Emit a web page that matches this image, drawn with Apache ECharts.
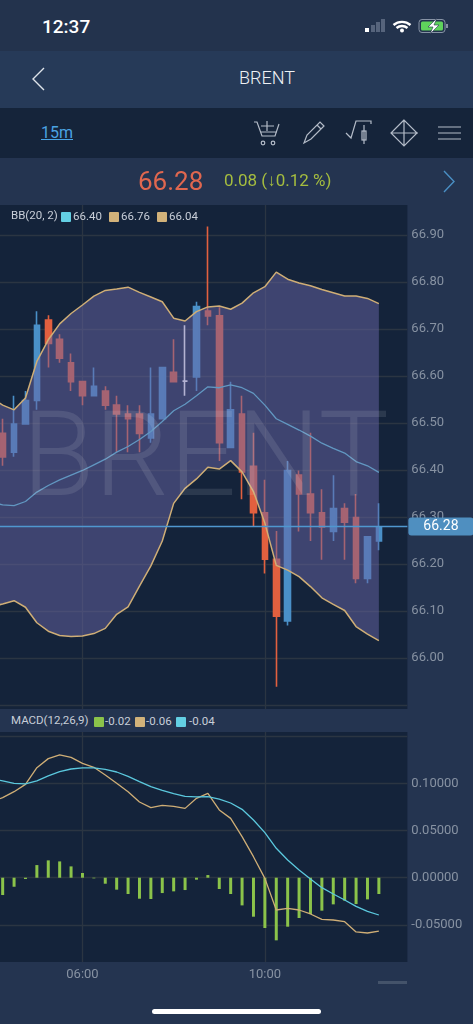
<!DOCTYPE html>
<html lang="en">

<head>
    <meta charset="UTF-8">
    <meta name="viewport" content="width=device-width, initial-scale=1.0">
    <script src="https://cdn.jsdelivr.net/npm/echarts@6/dist/echarts.min.js"></script>
    <title>BRENT</title>
    <style>
        html,
        body {
            margin: 0;
            width: 473px;
            height: 1024px;
            overflow: hidden;
            background: #243450;
            font-family: Roboto, sans-serif;
        }

        #echart-container {
            position: absolute;
            left: 0;
            top: 0;
            width: 473px;
            height: 1024px;
        }

        .strip { position: absolute; left: 0; width: 473px; }
        .txt { position: absolute; white-space: nowrap; line-height: 1; }
        .sw { position: absolute; width: 10px; height: 10px; border-radius: 1px; }
        .leg { color: #c8ced8; font-size: 11.5px; }
        svg { position: absolute; overflow: visible; fill: none; }
    </style>
</head>

<body>
    <div id="echart-container"></div>

    <div class="strip" style="top:0;height:51px;background:#23334d"></div>
    <div class="strip" style="top:51px;height:57px;background:#263a58"></div>
    <div class="strip" style="top:108px;height:50px;background:#15243a"></div>
    <div class="strip" style="top:709px;width:407px;height:23px;background:#243450"></div>

    <div class="txt" style="left:42px;top:17px;color:#fff;font-size:19px;font-weight:500">12:37</div>
    <div class="txt" style="left:239px;top:69px;color:#eef1f5;font-size:18px;font-weight:300">BRENT</div>
    <div class="txt" style="left:41px;top:125px;color:#4ba3e3;font-size:16px;text-decoration:underline">15m</div>
    <div class="txt" style="left:138px;top:168px;color:#e0674f;font-size:26px">66.28</div>
    <div class="txt" style="left:224px;top:172px;color:#a5bd3f;font-size:17px">0.08 (↓0.12 %)</div>

    <!-- status icons -->
    <svg style="left:0;top:0" width="473" height="60">
        <rect x="365" y="28" width="4" height="4" fill="#fff"/>
        <rect x="371" y="25" width="4" height="7" fill="#56647c"/>
        <rect x="376" y="22" width="4" height="10" fill="#56647c"/>
        <rect x="381" y="19" width="4" height="13" fill="#56647c"/>
        <path d="M393.5 25a13 13 0 0 1 17 0M396.5 28a8.5 8.5 0 0 1 11 0" stroke="#fff" stroke-width="2.4"/>
        <circle cx="402" cy="30.5" r="2" fill="#fff"/>
        <rect x="419" y="19.500" width="26" height="13" rx="3" stroke="#8793a5" stroke-width="1"/>
        <rect x="421" y="21.500" width="22" height="9" rx="1.5" fill="#5fd35c"/>
        <rect x="446" y="24" width="2" height="4" fill="#8793a5"/>
        <path d="M437 18l-9 9h5l-3 7 9-9h-5z" fill="#fff" stroke="#23334d" stroke-width=".6"/>
    </svg>

    <!-- nav and toolbar icons -->
    <svg style="left:0;top:0" width="473" height="210">
        <path d="M44 68L33 79l11 11" stroke="#dfe4ea" stroke-width="1.4"/>
        <path d="M444 171l10 10.500-10 10.500" stroke="#4a8fc4" stroke-width="1.4"/>
        <g stroke="#b4bcc8" stroke-width="1.2">
            <path d="M254 122h3l5 14h13l4-12M261 132h16M267 121v10M261 126h13"/>
            <circle cx="263" cy="143" r="1.800"/>
            <circle cx="273" cy="143" r="1.800"/>
            <path d="M304 143l3-8 13-13 4 4-13 13zM317 125l4 4"/>
            <path d="M346 133l5 5 5-17h15v3M364 125v19"/>
            <rect x="362" y="131" width="4" height="9"/>
            <path d="M404 120v26M391 133h27M404 120l-13 13 13 13 13-13z"/>
            <path d="M438 127h23M438 133h23M438 139h23"/>
        </g>
    </svg>

    <!-- BB legend -->
    <div class="txt leg" style="left:11px;top:210px">BB(20, 2)</div>
    <div class="sw" style="left:61px;top:212px;background:#63cfe3"></div>
    <div class="txt leg" style="left:73px;top:211px">66.40</div>
    <div class="sw" style="left:109px;top:212px;background:#d2b27a"></div>
    <div class="txt leg" style="left:121px;top:211px">66.76</div>
    <div class="sw" style="left:157px;top:212px;background:#d2b27a"></div>
    <div class="txt leg" style="left:169px;top:211px">66.04</div>

    <!-- MACD legend -->
    <div class="txt leg" style="left:11px;top:715px">MACD(12,26,9)</div>
    <div class="sw" style="left:94px;top:717px;background:#8bc34a"></div>
    <div class="txt leg" style="left:105px;top:716px">-0.02</div>
    <div class="sw" style="left:135px;top:717px;background:#d2b27a"></div>
    <div class="txt leg" style="left:146px;top:716px">-0.06</div>
    <div class="sw" style="left:176px;top:717px;background:#63cfe3"></div>
    <div class="txt leg" style="left:189px;top:716px">-0.04</div>

    <div class="strip" style="left:378px;top:981px;width:29px;height:3px;background:#44536a"></div>
    <div class="strip" style="left:152px;top:1009px;width:169px;height:5px;border-radius:3px;background:#fff"></div>

    <script>
        var timeLabels = ['04:00', '04:15', '04:30', '04:45', '05:00', '05:15', '05:30', '05:45', '06:00', '06:15',
            '06:30', '06:45', '07:00', '07:15', '07:30', '07:45', '08:00', '08:15', '08:30', '08:45', '09:00', '09:15',
            '09:30', '09:45', '10:00', '10:15', '10:30', '10:45', '11:00', '11:15', '11:30', '11:45', '12:00', '12:15',
            '12:30', '12:45', '13:00'];
        var shownTimes = ['06:00', '10:00'];

        var priceLines = [65.9, 66, 66.1, 66.2, 66.3, 66.4, 66.5, 66.6, 66.7, 66.8, 66.9];
        var priceLabels = [66, 66.1, 66.2, 66.3, 66.4, 66.5, 66.6, 66.7, 66.8, 66.9];
        var macdLines = [-0.05, 0, 0.05, 0.1, 0.15];
        var macdLabels = [-0.05, 0, 0.05, 0.1];
        var lastPrice = 66.28;

        // open, close, low, high
        var candles = ['-',
            [66.478, 66.428, 66.409, 66.509], [66.438, 66.498, 66.428, 66.558], [66.498, 66.548, 66.498, 66.568],
            [66.548, 66.708, 66.528, 66.738], [66.719, 66.669, 66.618, 66.729], [66.678, 66.638, 66.628, 66.689],
            [66.628, 66.588, 66.568, 66.648], [66.588, 66.558, 66.538, 66.588], [66.558, 66.578, 66.558, 66.618],
            [66.568, 66.538, 66.528, 66.578], [66.538, 66.519, 66.438, 66.558], [66.519, 66.509, 66.438, 66.538],
            [66.519, 66.478, 66.438, 66.538], [66.468, 66.519, 66.458, 66.618], [66.509, 66.618, 66.509, 66.618],
            [66.608, 66.588, 66.588, 66.678], [66.589, 66.589, 66.558, 66.708], [66.598, 66.748, 66.568, 66.758],
            [66.738, 66.728, 66.708, 66.918], [66.728, 66.458, 66.419, 66.746], [66.448, 66.528, 66.448, 66.588],
            [66.519, 66.396, 66.338, 66.558], [66.408, 66.309, 66.279, 66.479], [66.309, 66.210, 66.180, 66.379],
            [66.210, 66.089, 65.939, 66.270], [66.079, 66.399, 66.069, 66.419], [66.389, 66.349, 66.269, 66.399],
            [66.349, 66.309, 66.249, 66.479], [66.309, 66.279, 66.209, 66.359], [66.269, 66.318, 66.249, 66.389],
            [66.318, 66.289, 66.209, 66.329], [66.299, 66.169, 66.159, 66.349], [66.169, 66.258, 66.159, 66.258],
            [66.249, 66.279, 66.229, 66.329]];

        var bbUpper = [66.553, 66.538, 66.528, 66.553, 66.631, 66.677, 66.711, 66.733, 66.751, 66.770, 66.782, 66.785,
            66.789, 66.778, 66.768, 66.758, 66.723, 66.717, 66.737, 66.747, 66.749, 66.742, 66.755, 66.777, 66.790,
            66.821, 66.806, 66.798, 66.792, 66.784, 66.777, 66.770, 66.770, 66.765, 66.754];
        var bbMiddle = [66.331, 66.326, 66.324, 66.333, 66.353, 66.367, 66.379, 66.389, 66.399, 66.411, 66.423, 66.438,
            66.450, 66.465, 66.482, 66.503, 66.526, 66.540, 66.558, 66.577, 66.575, 66.581, 66.575, 66.563, 66.538,
            66.509, 66.497, 66.485, 66.472, 66.457, 66.446, 66.436, 66.418, 66.409, 66.395];
        var bbLower = [66.109, 66.115, 66.122, 66.108, 66.075, 66.057, 66.048, 66.046, 66.047, 66.052, 66.063, 66.093,
            66.109, 66.153, 66.196, 66.249, 66.329, 66.361, 66.381, 66.406, 66.402, 66.420, 66.396, 66.354, 66.287,
            66.197, 66.187, 66.173, 66.152, 66.128, 66.114, 66.101, 66.067, 66.051, 66.037];

        var macdHist = ['-', -0.0184, -0.0096, -0.0014, 0.0134, 0.0184, 0.0173, 0.0120, 0.0050, -0.0007, -0.0064, -0.0127,
            -0.0173, -0.0223, -0.0226, -0.0163, -0.0145, -0.0131, -0.0021, 0.0028, -0.0120, -0.0173, -0.0294, -0.0414,
            -0.0534, -0.0665, -0.0520, -0.0428, -0.0386, -0.0350, -0.0283, -0.0244, -0.0280, -0.0230, -0.0173];
        var macdLine = [0.0807, 0.0850, 0.0913, 0.0991, 0.1168, 0.1264, 0.1303, 0.1278, 0.1214, 0.1172, 0.1090, 0.1002,
            0.0913, 0.0804, 0.0744, 0.0768, 0.0758, 0.0736, 0.0843, 0.0896, 0.0719, 0.0630, 0.0436, 0.0223, -0.0007,
            -0.0343, -0.0325, -0.0343, -0.0385, -0.0442, -0.0449, -0.0467, -0.0576, -0.0587, -0.0566];
        var macdSignal = [0.1051, 0.1027, 0.1002, 0.0995, 0.1027, 0.1080, 0.1126, 0.1154, 0.1165, 0.1165, 0.1150, 0.1122,
            0.1076, 0.1020, 0.0966, 0.0928, 0.0892, 0.0864, 0.0857, 0.0860, 0.0835, 0.0793, 0.0726, 0.0613, 0.0478,
            0.0312, 0.0188, 0.0082, -0.0014, -0.0106, -0.0173, -0.0237, -0.0304, -0.0357, -0.0396];

        var gridColor = '#2b3542';
        var labelColor = '#8792a2';

        window.addEventListener('DOMContentLoaded', () => {
            var myChart = echarts.init(document.getElementById('echart-container'));

            var bandWidth = bbUpper.map((v, i) => +(v - bbLower[i]).toFixed(3));
            var candleData = candles.map(c => {
                // doji is drawn white
                if (c !== '-' && c[0] === c[1]) {
                    return { value: c, itemStyle: { color: '#fff', color0: '#fff', borderColor: '#fff', borderColor0: '#fff' } };
                }
                return c;
            });

            function timeAxis(gridIndex, showLabel) {
                var isShown = (index, value) => shownTimes.indexOf(value) >= 0;
                return {
                    type: 'category',
                    gridIndex: gridIndex,
                    data: timeLabels,
                    boundaryGap: true,
                    axisLine: { show: false },
                    axisTick: { show: false, alignWithLabel: true, interval: isShown },
                    axisLabel: { show: showLabel, interval: isShown, color: labelColor, fontSize: 13, margin: 6, fontFamily: 'Roboto' },
                    splitLine: { show: true, alignWithLabel: true, interval: isShown, lineStyle: { color: gridColor, width: 1.3 } }
                };
            }

            function valueAxis(gridIndex, min, max, lines, labels, digits) {
                return {
                    type: 'value',
                    gridIndex: gridIndex,
                    position: 'right',
                    min: min,
                    max: max,
                    axisLine: { show: false },
                    axisTick: { show: false, customValues: lines },
                    axisLabel: {
                        customValues: labels,
                        color: labelColor,
                        fontSize: 13,
                        margin: 4,
                        fontFamily: 'Roboto',
                        formatter: v => v.toFixed(digits)
                    },
                    splitLine: { show: true, lineStyle: { color: gridColor, width: 1.3 } }
                };
            }

            function plainLine(name, data, color, z, xIndex, width) {
                return {
                    name: name,
                    type: 'line',
                    data: data,
                    xAxisIndex: xIndex,
                    yAxisIndex: xIndex,
                    z: z,
                    symbol: 'none',
                    lineStyle: { color: color, width: width || 1.3 }
                };
            }

            var option = {
                animation: false,
                grid: [
                    { left: -14.43, width: 421.8, top: 205, height: 504, show: true, backgroundColor: '#14233a', borderWidth: 0, outerBoundsMode: 'none' },
                    { left: -14.43, width: 421.8, top: 732, height: 230, show: true, backgroundColor: '#14233a', borderWidth: 0, outerBoundsMode: 'none' }
                ],
                xAxis: [timeAxis(0, false), timeAxis(1, true)],
                yAxis: [
                    valueAxis(0, 65.8915, 66.9638, priceLines, priceLabels, 2),
                    valueAxis(1, -0.08949, 0.15467, macdLines, macdLabels, 5)
                ],
                graphic: [{
                    type: 'text',
                    left: 22,
                    top: 406,
                    z: 100,
                    silent: true,
                    style: { text: 'BRENT', fontSize: 118, fontWeight: 300, fontFamily: 'Roboto', fill: 'rgba(255,255,255,0.1)' }
                }],
                series: [
                    {
                        name: 'BRENT',
                        type: 'candlestick',
                        data: candleData,
                        z: 2,
                        barWidth: 6,
                        itemStyle: {
                            color: '#4a90c8',
                            color0: '#e2603f',
                            borderColor: '#4a90c8',
                            borderColor0: '#e2603f',
                            borderWidth: 1.6
                        },
                        markLine: {
                            silent: true,
                            symbol: 'none',
                            z: 20,
                            lineStyle: { color: '#4f97cf', width: 1.4, type: 'solid' },
                            label: {
                                position: 'end',
                                distance: 1,
                                color: '#fff',
                                fontSize: 14,
                                fontFamily: 'Roboto',
                                backgroundColor: '#4f8fc0',
                                borderRadius: 3,
                                padding: [2, 15],
                                formatter: p => p.value.toFixed(2)
                            },
                            data: [{ yAxis: lastPrice }]
                        }
                    },
                    plainLine('BB middle', bbMiddle, '#5bc8dd', 3, 0),
                    {
                        name: 'BB base',
                        type: 'line',
                        stack: 'band',
                        data: bbLower,
                        symbol: 'none',
                        z: 4,
                        lineStyle: { opacity: 0 }
                    },
                    {
                        name: 'BB band',
                        type: 'line',
                        stack: 'band',
                        data: bandWidth,
                        symbol: 'none',
                        z: 4,
                        lineStyle: { opacity: 0 },
                        areaStyle: { color: 'rgba(104,101,166,0.5)', opacity: 1 }
                    },
                    plainLine('BB upper', bbUpper, '#cfae76', 5, 0, 1.5),
                    plainLine('BB lower', bbLower, '#cfae76', 5, 0, 1.5),
                    {
                        name: 'MACD',
                        type: 'bar',
                        data: macdHist,
                        xAxisIndex: 1,
                        yAxisIndex: 1,
                        barWidth: 3,
                        itemStyle: { color: '#8bc34a' }
                    },
                    plainLine('DIF', macdLine, '#cfae76', 5, 1),
                    plainLine('DEA', macdSignal, '#5bc8dd', 5, 1)
                ]
            };
            myChart.setOption(option);
        });
    </script>
</body>

</html>
